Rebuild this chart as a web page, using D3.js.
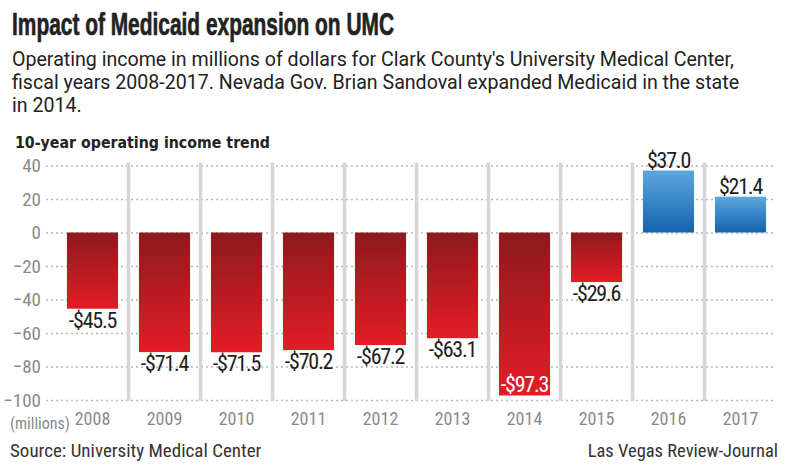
<!DOCTYPE html>
<html><head><meta charset="utf-8">
<script src="https://cdn.jsdelivr.net/npm/d3@7"></script>
<style>
body{margin:0;background:#fff;}
svg{display:block;}
.cond{font-family:"Liberation Sans Narrow","Roboto Condensed","DejaVu Sans Condensed","Liberation Sans",sans-serif;}
</style></head>
<body>
<svg id="chart" width="800" height="467"></svg>
<script>
const years = ["2008","2009","2010","2011","2012","2013","2014","2015","2016","2017"];
const values = [-45.5,-71.4,-71.5,-70.2,-67.2,-63.1,-97.3,-29.6,37.0,21.4];
const labels = ["-$45.5","-$71.4","-$71.5","-$70.2","-$67.2","-$63.1","-$97.3","-$29.6","$37.0","$21.4"];
const yTicks = [40,20,0,-20,-40,-60,-80,-100];

const svg = d3.select("#chart");
const defs = svg.append("defs");
const rg = defs.append("linearGradient").attr("id","red").attr("x1",0).attr("y1",0).attr("x2",0).attr("y2",1);
rg.append("stop").attr("offset","0%").attr("stop-color","#8c1a1d");
rg.append("stop").attr("offset","100%").attr("stop-color","#e41c26");
const bg = defs.append("linearGradient").attr("id","blue").attr("x1",0).attr("y1",0).attr("x2",0).attr("y2",1);
bg.append("stop").attr("offset","0%").attr("stop-color","#5ea6de");
bg.append("stop").attr("offset","100%").attr("stop-color","#1363ae");

const x = d3.scaleBand().domain(years).range([56.5,776.5]).paddingInner(0.29).paddingOuter(0.145);
const y = d3.scaleLinear().domain([-100,40]).range([400,165.5]);

// title
svg.append("text").attr("x",12).attr("y",35).attr("font-family","Liberation Sans, sans-serif")
  .attr("font-weight","bold").attr("font-size",32).attr("fill","#222")
  .attr("stroke","#222").attr("stroke-width",0.7)
  .attr("textLength",382).attr("lengthAdjust","spacingAndGlyphs")
  .text("Impact of Medicaid expansion on UMC");
const sub = ["Operating income in millions of dollars for Clark County's University Medical Center,",
  "fiscal years 2008-2017. Nevada Gov. Brian Sandoval expanded Medicaid in the state",
  "in 2014."];
sub.forEach((s,i)=>svg.append("text").attr("x",12).attr("y",66+i*23).attr("font-family","Roboto, sans-serif")
  .attr("font-size",19.6).attr("fill","#222").text(s));
svg.append("text").attr("x",15).attr("y",148).attr("font-family","DejaVu Sans, sans-serif").attr("font-weight","bold")
  .attr("font-size",15).attr("fill","#222")
  .attr("textLength",255).attr("lengthAdjust","spacingAndGlyphs")
  .text("10-year operating income trend");

// gridlines
const yAxis = d3.axisLeft(y).tickValues(yTicks).tickSize(-(775-46)).tickFormat(d3.format("d"));
const ga = svg.append("g").attr("transform","translate(46,0)").call(yAxis);
ga.select(".domain").remove();
ga.selectAll(".tick line").attr("stroke","#b8b8b8").attr("stroke-width",1.3).attr("stroke-dasharray","2,3");
ga.selectAll(".tick text").attr("x",-5).attr("class","cond").attr("font-size",19).attr("fill","#8a8a8a");

// separators
const seps = years.slice(1);
svg.append("g").selectAll("line").data(seps).join("line")
  .attr("x1",d=>x(d)-x.step()*0.29/2).attr("x2",d=>x(d)-x.step()*0.29/2)
  .attr("y1",y(40)-3).attr("y2",y(-100)+1)
  .attr("stroke","#d6d6d6").attr("stroke-width",3.5);

// bars
svg.append("g").selectAll("rect").data(years).join("rect")
  .attr("x",d=>x(d)).attr("width",x.bandwidth())
  .attr("y",(d,i)=>y(Math.max(0,values[i])))
  .attr("height",(d,i)=>Math.abs(y(values[i])-y(0)))
  .attr("fill",(d,i)=>values[i]<0?"url(#red)":"url(#blue)");

// value labels
svg.append("g").selectAll("text").data(years).join("text")
  .attr("class","cond")
  .attr("x",d=>x(d)+x.bandwidth()/2)
  .attr("y",(d,i)=>{
    const v=values[i];
    if(v>=0) return y(v)-3;
    if(v<-90) return y(v)-3;
    return y(v)+19;
  })
  .attr("text-anchor","middle").attr("font-size",22).attr("letter-spacing",-1.2)
  .attr("fill",(d,i)=>values[i]<-90?"#fff":"#1e1e1e")
  .text((d,i)=>labels[i]);

// x axis labels
const xAxis = d3.axisBottom(x).tickSize(0);
const gx = svg.append("g").attr("transform","translate(0,409)").call(xAxis);
gx.select(".domain").remove();
gx.selectAll(".tick text").attr("class","cond").attr("font-size",18).attr("fill","#8a8a8a").attr("dy","0.71em");

svg.append("text").attr("x",10).attr("y",429).attr("class","cond").attr("font-size",16).attr("fill","#8a8a8a").text("(millions)");

svg.append("text").attr("x",10).attr("y",457).attr("class","cond").attr("font-size",19).attr("fill","#333").text("Source: University Medical Center");
svg.append("text").attr("x",778).attr("y",457).attr("text-anchor","end").attr("class","cond").attr("font-size",18.5).attr("fill","#333").text("Las Vegas Review-Journal");
</script>
</body></html>
